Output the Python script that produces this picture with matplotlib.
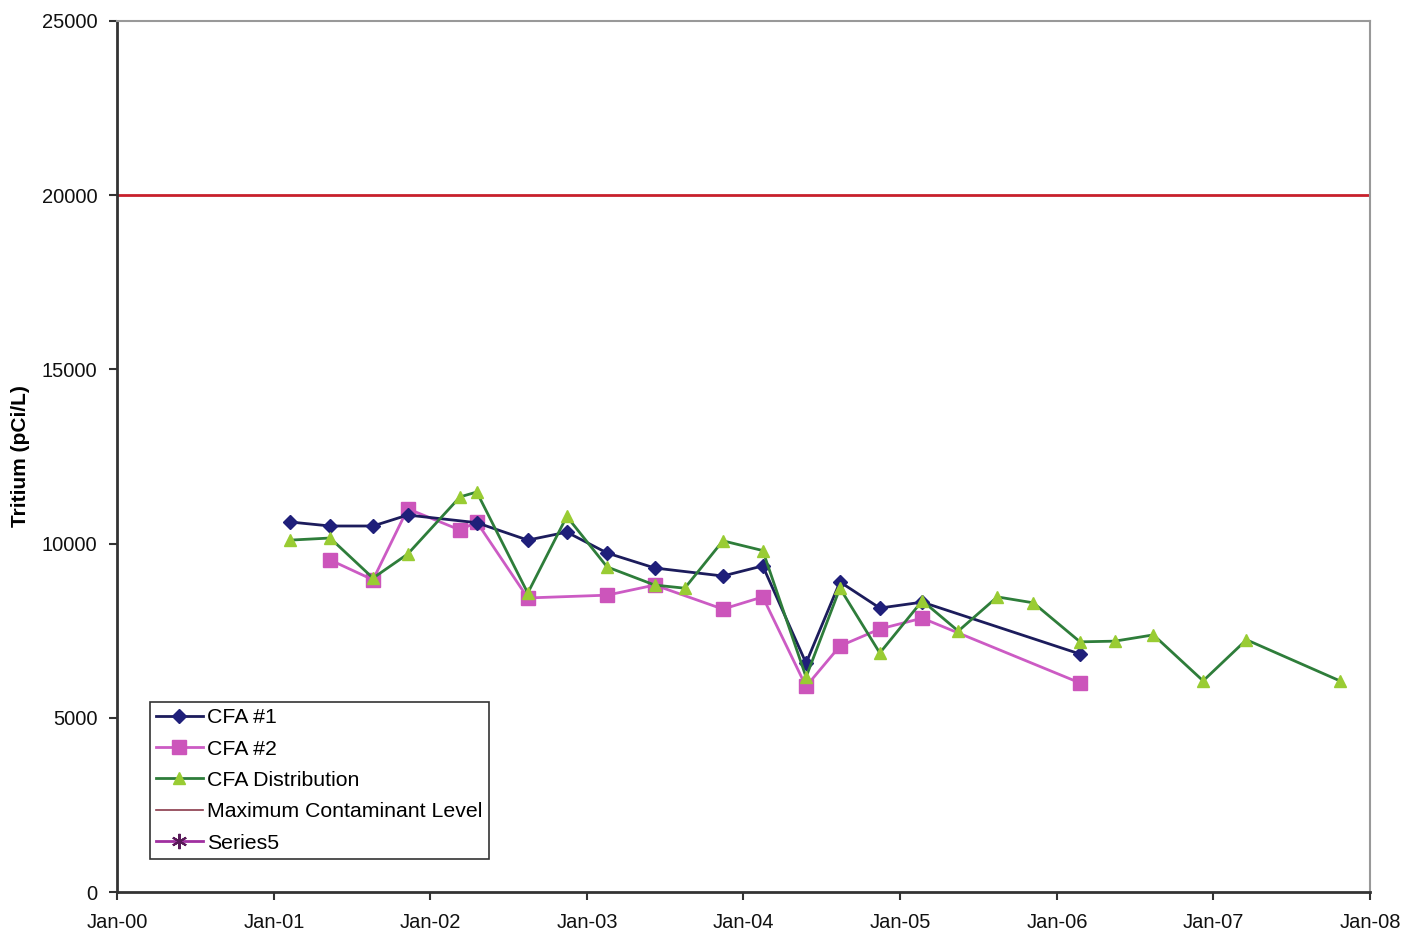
import matplotlib
matplotlib.use("Agg")
import matplotlib.pyplot as plt
import matplotlib.dates as mdates
import pandas as pd

plt.rcParams['font.family'] = ['Liberation Sans', 'DejaVu Sans']

# Sampling dates and tritium concentrations (pCi/L)
cfa1_dates = ['2001-02-08', '2001-05-12', '2001-08-20', '2001-11-09', '2002-04-19',
              '2002-08-16', '2002-11-15', '2003-02-17', '2003-06-08', '2003-11-14',
              '2004-02-15', '2004-05-26', '2004-08-13', '2004-11-14', '2005-02-21',
              '2006-02-24']
cfa1_values = [10620, 10505, 10505, 10820, 10600,
               10100, 10330, 9730, 9300, 9070,
               9360, 6570, 8900, 8150, 8320,
               6830]

cfa2_dates = ['2001-05-12', '2001-08-20', '2001-11-09', '2002-03-11', '2002-04-19',
              '2002-08-16', '2003-02-17', '2003-06-08', '2003-11-14', '2004-02-15',
              '2004-05-26', '2004-08-13', '2004-11-14', '2005-02-21', '2006-02-24']
cfa2_values = [9530, 8960, 11000, 10390, 10620,
               8440, 8520, 8810, 8120, 8470,
               5900, 7060, 7550, 7860, 6000]

dist_dates = ['2001-02-08', '2001-05-12', '2001-08-20', '2001-11-09', '2002-03-11',
              '2002-04-19', '2002-08-16', '2002-11-15', '2003-02-17', '2003-06-08',
              '2003-08-17', '2003-11-14', '2004-02-15', '2004-05-26', '2004-08-13',
              '2004-11-14', '2005-02-21', '2005-05-16', '2005-08-15', '2005-11-07',
              '2006-02-24', '2006-05-16', '2006-08-14', '2006-12-08', '2007-03-19',
              '2007-10-23']
dist_values = [10100, 10160, 9010, 9700, 11340,
               11480, 8580, 10780, 9330, 8810,
               8720, 10080, 9800, 6170, 8720,
               6860, 8360, 7490, 8470, 8300,
               7180, 7200, 7380, 6060, 7240,
               6060]

mcl_value = 20000
series5_dates = []
series5_values = []

x_start, x_end = '2000-01-01', '2008-01-01'
y_ticks = [0, 5000, 10000, 15000, 20000, 25000]

fig = plt.figure(figsize=(14.18, 9.32), dpi=100)
ax = fig.add_axes([0.0825, 0.0429, 0.8836, 0.9346])

ax.plot(pd.to_datetime(cfa1_dates), cfa1_values, color='#1c1c5c', lw=2.0,
        marker='D', ms=7, mfc='#1f1f7a', mec='#1f1f7a', label='CFA #1', zorder=4)
ax.plot(pd.to_datetime(cfa2_dates), cfa2_values, color='#cc5bc4', lw=2.0,
        marker='s', ms=10, mfc='#cc55bb', mec='#cc55bb', label='CFA #2', zorder=3)
ax.plot(pd.to_datetime(dist_dates), dist_values, color='#2e7d3a', lw=2.0,
        marker='^', ms=9, mfc='#99cc33', mec='#99cc33', label='CFA Distribution', zorder=5)
ax.axhline(mcl_value, color='#c8202c', lw=2.0, zorder=2)
ax.plot([], [], color='#8a3a4a', lw=1.2, label='Maximum Contaminant Level')
ax.plot(pd.to_datetime(series5_dates), series5_values, color='#a030a0', lw=2.0,
        marker=(6, 2, 0), ms=11, mfc='#5a1a5a', mec='#5a1a5a', mew=1.5, label='Series5')

ax.set_xlim(pd.Timestamp(x_start), pd.Timestamp(x_end))
ax.set_ylim(y_ticks[0], y_ticks[-1])
ax.set_yticks(y_ticks)
ax.xaxis.set_major_locator(mdates.YearLocator())
ax.xaxis.set_major_formatter(mdates.DateFormatter('%b-%y'))

for side in ['top', 'right']:
    ax.spines[side].set_color('#999999')
    ax.spines[side].set_linewidth(1.5)
for side in ['left', 'bottom']:
    ax.spines[side].set_color('#333333')
    ax.spines[side].set_linewidth(2.0)

ax.tick_params(axis='both', direction='out', length=6, width=1.5, color='#333333',
               labelsize=14.5, labelcolor='#111111')
ax.tick_params(axis='y', pad=8)
ax.tick_params(axis='x', pad=9)

ax.set_ylabel('Tritium (pCi/L)', fontsize=15, fontweight='bold', va='center')
ax.yaxis.set_label_coords(-0.077, 0.5)

leg = ax.legend(loc='lower left', bbox_to_anchor=(0.026, 0.038), fontsize=15.3,
                frameon=True, fancybox=False, edgecolor='#333333', framealpha=1,
                handlelength=2.2, handletextpad=0.2, labelspacing=0.58,
                borderpad=0.3, borderaxespad=0)
leg.get_frame().set_linewidth(1.2)

fig.savefig('out.png', dpi=100)
